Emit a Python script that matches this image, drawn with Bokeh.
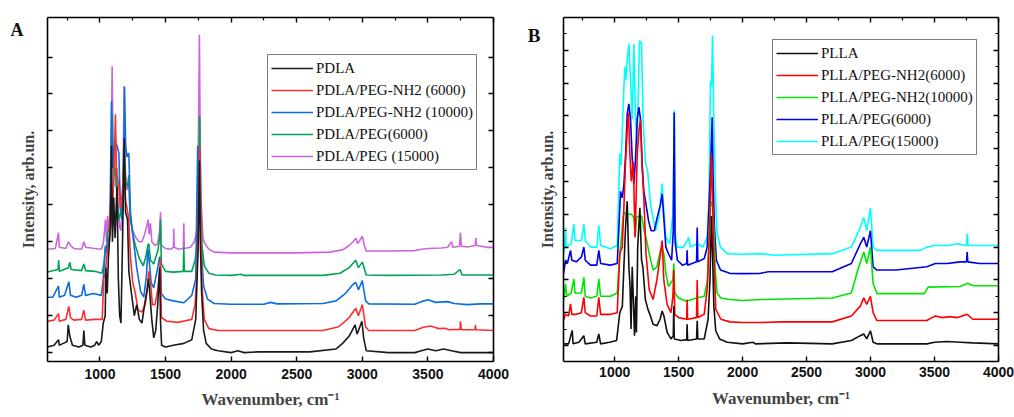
from bokeh.plotting import figure
from bokeh.models import (Range1d, LinearAxis, FixedTicker, Legend, LegendItem, CustomLabelingPolicy,
                          CustomJSTickFormatter)
from bokeh.layouts import row
from bokeh.embed import file_html
from bokeh.resources import INLINE

# ---------------- data (wavenumber, intensity in arbitrary units) ----------------
x_ticks = [1000, 1500, 2000, 2500, 3000, 3500, 4000]
x_minor = [750, 1250, 1750, 2250, 2750, 3250, 3750]

# Panel A
a_labels = ["PDLA", "PDLA/PEG-NH2 (6000)", "PDLA/PEG-NH2 (10000)", "PDLA/PEG(6000)", "PDLA/PEG (15000)"]
a_colors = ["#1a1a1a", "#ff2e2e", "#0a6ee0", "#00a551", "#cc66dd"]

a_pdla = [(600, 0.15), (650, 0.2), (684, 0.35), (690, 0.2), (720, 0.25), (750, 0.3), (758, 0.75), (770, 0.45),
          (790, 0.2), (840, 0.15), (870, 0.2), (877, 0.6), (885, 0.2), (930, 0.15), (960, 0.2), (975, 0.3),
          (990, 0.2), (1010, 0.3), (1025, 0.8), (1040, 1.0), (1045, 2.3), (1055, 1.6), (1065, 2.6), (1080, 3.4),
          (1088, 5.6), (1095, 3.0), (1105, 4.2), (1115, 3.1), (1130, 4.5), (1140, 2.0), (1150, 1.0), (1160, 0.8),
          (1172, 3.0), (1185, 5.8), (1195, 3.8), (1210, 3.6), (1220, 2.2), (1240, 1.6), (1262, 1.0), (1280, 1.3),
          (1300, 0.9), (1320, 0.8), (1340, 1.3), (1355, 1.6), (1370, 2.0), (1380, 1.6), (1395, 0.9), (1410, 0.4),
          (1425, 0.6), (1440, 1.3), (1455, 2.3), (1462, 0.8), (1470, 0.2), (1500, 0.15), (1560, 0.2), (1640, 0.25),
          (1700, 0.35), (1730, 0.9), (1748, 2.8), (1758, 5.2), (1765, 3.0), (1775, 1.6), (1790, 0.6), (1810, 0.25),
          (1850, 0.1), (1900, 0.05), (2000, 0.0), (2050, 0.05), (2100, 0.0), (2200, 0.02), (2600, 0.02), (2800, 0.1),
          (2850, 0.25), (2900, 0.45), (2945, 0.75), (2960, 0.5), (2997, 0.85), (3010, 0.4), (3030, 0.05), (3200, 0.0),
          (3400, 0.0), (3450, 0.05), (3500, 0.1), (3560, 0.05), (3620, 0.1), (3680, 0.05), (3750, 0.0), (4000, 0.0)]

a_nh2_6000 = [(600, 0.85), (650, 0.88), (684, 1.05), (690, 0.85), (740, 0.9), (762, 1.25), (775, 0.95), (800, 0.88),
              (860, 0.9), (877, 1.15), (890, 0.88), (960, 0.9), (1017, 0.9), (1029, 2.0), (1042, 2.2), (1055, 2.7),
              (1070, 3.0), (1085, 4.5), (1095, 3.8), (1108, 5.0), (1118, 6.45), (1125, 5.0), (1131, 4.8), (1144, 4.5),
              (1156, 3.9), (1170, 4.3), (1182, 5.1), (1195, 4.1), (1207, 3.9), (1220, 3.6), (1232, 2.6), (1250, 1.9),
              (1270, 1.6), (1290, 1.15), (1320, 1.1), (1345, 1.3), (1360, 1.7), (1372, 2.2), (1385, 1.9), (1400, 1.3),
              (1420, 1.3), (1440, 1.7), (1455, 2.2), (1461, 2.55), (1468, 0.95), (1510, 0.85), (1600, 0.82),
              (1700, 0.9), (1725, 1.3), (1740, 2.2), (1752, 4.0), (1760, 5.6), (1768, 3.6), (1778, 1.8), (1795, 0.9),
              (1830, 0.65), (1900, 0.6), (2700, 0.6), (2820, 0.7), (2900, 0.95), (2950, 1.2), (2970, 1.0), (3000, 1.3),
              (3025, 0.7), (3050, 0.6), (3400, 0.6), (3460, 0.68), (3520, 0.72), (3580, 0.65), (3630, 0.66),
              (3660, 0.62), (3745, 0.63), (3748, 0.85), (3755, 0.62), (3860, 0.62), (3862, 0.75), (3866, 0.62),
              (4000, 0.6)]

a_nh2_10000 = [(600, 1.5), (640, 1.5), (684, 1.8), (690, 1.5), (730, 1.55), (763, 1.92), (775, 1.55), (820, 1.5),
               (860, 1.55), (877, 1.85), (890, 1.55), (950, 1.6), (1010, 1.55), (1025, 2.0), (1042, 2.85), (1050, 2.7),
               (1060, 3.0), (1075, 3.2), (1088, 6.8), (1095, 5.0), (1105, 5.5), (1118, 5.7), (1130, 5.6), (1144, 5.4),
               (1156, 3.9), (1170, 3.6), (1180, 4.5), (1187, 7.2), (1196, 5.6), (1206, 5.3), (1220, 5.4), (1232, 3.8),
               (1250, 3.2), (1280, 2.3), (1310, 1.65), (1334, 1.5), (1355, 2.1), (1365, 2.8), (1375, 2.5), (1390, 1.9),
               (1410, 1.75), (1440, 2.3), (1455, 2.6), (1461, 2.5), (1468, 1.6), (1500, 1.45), (1560, 1.4),
               (1640, 1.35), (1700, 1.55), (1730, 2.0), (1745, 5.6), (1755, 5.2), (1765, 4.2), (1772, 2.8),
               (1790, 1.8), (1820, 1.45), (1870, 1.33), (2000, 1.31), (2250, 1.31), (2300, 1.36), (2350, 1.32),
               (2700, 1.33), (2800, 1.4), (2870, 1.6), (2930, 1.85), (2950, 1.9), (2970, 1.7), (3000, 1.95),
               (3025, 1.4), (3050, 1.32), (3400, 1.31), (3450, 1.38), (3500, 1.43), (3560, 1.36), (3650, 1.38),
               (3700, 1.33), (3800, 1.3), (3900, 1.32), (4000, 1.32)]

a_peg_6000 = [(600, 2.18), (680, 2.25), (685, 2.5), (690, 2.2), (760, 2.3), (770, 2.45), (780, 2.25), (860, 2.22),
              (877, 2.4), (890, 2.22), (960, 2.2), (1015, 2.15), (1030, 2.4), (1042, 2.9), (1050, 2.7), (1058, 3.2),
              (1075, 3.5), (1085, 4.2), (1093, 6.45), (1100, 5.3), (1110, 4.8), (1120, 5.0), (1131, 4.1), (1145, 3.6),
              (1160, 3.8), (1172, 4.3), (1182, 5.6), (1195, 4.6), (1210, 4.5), (1220, 4.8), (1230, 3.7), (1250, 3.2),
              (1270, 2.9), (1300, 2.55), (1330, 2.35), (1350, 2.6), (1365, 2.9), (1372, 2.95), (1385, 2.5),
              (1410, 2.4), (1440, 2.75), (1455, 3.1), (1461, 3.6), (1468, 2.4), (1500, 2.2), (1560, 2.18),
              (1635, 2.2), (1639, 2.85), (1643, 2.2), (1700, 2.2), (1725, 2.5), (1740, 2.9), (1752, 4.5), (1760, 6.4),
              (1768, 4.0), (1778, 2.9), (1795, 2.35), (1830, 2.15), (1880, 2.1), (2000, 2.09), (2080, 2.12),
              (2090, 2.09), (2700, 2.09), (2830, 2.15), (2900, 2.3), (2950, 2.5), (2970, 2.3), (3000, 2.45),
              (3030, 2.1), (3200, 2.09), (3600, 2.1), (3700, 2.12), (3745, 2.25), (3760, 2.1), (4000, 2.1)]

a_peg_15000 = [(600, 2.8), (660, 2.82), (684, 3.25), (690, 2.85), (740, 2.82), (760, 3.0), (775, 2.9), (800, 2.82),
               (860, 2.8), (877, 3.0), (890, 2.85), (960, 2.82), (1010, 2.8), (1025, 2.95), (1035, 3.3), (1042, 3.6),
               (1050, 3.0), (1058, 3.7), (1070, 3.3), (1080, 4.0), (1093, 7.75), (1100, 5.2), (1108, 5.6),
               (1118, 4.5), (1128, 5.0), (1140, 3.9), (1150, 3.4), (1160, 3.3), (1175, 4.4), (1184, 7.2), (1192, 5.0),
               (1205, 4.4), (1220, 4.6), (1230, 3.6), (1250, 3.3), (1275, 3.1), (1300, 3.0), (1320, 3.0), (1340, 3.2),
               (1355, 3.4), (1367, 3.6), (1375, 3.2), (1385, 3.5), (1395, 3.0), (1420, 2.9), (1440, 2.95),
               (1455, 3.3), (1462, 3.8), (1468, 2.9), (1500, 2.82), (1540, 2.8), (1560, 2.85), (1563, 3.35),
               (1566, 2.85), (1600, 2.8), (1635, 2.82), (1639, 3.5), (1643, 2.82), (1690, 2.85), (1720, 3.0),
               (1738, 3.3), (1748, 5.0), (1758, 8.6), (1765, 5.5), (1772, 4.0), (1785, 3.1), (1800, 2.95),
               (1830, 2.8), (1870, 2.72), (2000, 2.7), (2500, 2.7), (2750, 2.72), (2850, 2.78), (2900, 2.9),
               (2930, 3.0), (2950, 3.1), (2965, 2.95), (3000, 3.15), (3015, 2.9), (3030, 2.75), (3200, 2.75),
               (3400, 2.76), (3450, 2.8), (3500, 2.82), (3600, 2.83), (3650, 2.85), (3680, 3.0), (3690, 2.85),
               (3740, 2.88), (3748, 3.25), (3755, 2.88), (3800, 2.86), (3860, 2.9), (3865, 3.1), (3870, 2.9),
               (3950, 2.85), (4000, 2.85)]

# Panel B
b_labels = ["PLLA", "PLLA/PEG-NH2(6000)", "PLLA/PEG-NH2(10000)", "PLLA/PEG(6000)", "PLLA/PEG(15000)"]
b_colors = ["#111111", "#ff0000", "#00e600", "#0000e6", "#00ffff"]

b_plla = [(600, 0.05), (640, 0.05), (668, 0.46), (675, 0.05), (720, 0.1), (759, 0.3), (770, 0.05), (860, 0.1),
          (876, 0.35), (890, 0.05), (960, 0.1), (1015, 0.15), (1040, 1.0), (1060, 1.2), (1072, 2.4), (1085, 3.6),
          (1098, 4.4), (1111, 2.4), (1120, 1.8), (1128, 0.5), (1137, 2.4), (1145, 1.5), (1155, 0.3), (1165, 1.5),
          (1170, 0.4), (1180, 3.0), (1197, 4.2), (1210, 2.6), (1220, 2.4), (1240, 1.4), (1260, 1.1), (1280, 0.9),
          (1300, 0.65), (1330, 0.6), (1355, 0.8), (1371, 1.05), (1385, 0.9), (1410, 0.4), (1440, 0.2), (1458, 0.3),
          (1462, 1.2), (1466, 0.2), (1520, 0.15), (1563, 0.18), (1566, 0.65), (1570, 0.15), (1640, 0.2),
          (1645, 0.75), (1650, 0.2), (1700, 0.2), (1730, 0.8), (1745, 2.0), (1756, 3.95), (1765, 2.8), (1775, 1.2),
          (1790, 0.45), (1820, 0.2), (1880, 0.1), (2000, 0.05), (2080, 0.1), (2100, 0.05), (2350, 0.08),
          (2700, 0.05), (2850, 0.15), (2920, 0.3), (2947, 0.35), (2970, 0.2), (2999, 0.45), (3020, 0.1),
          (3050, 0.05), (3440, 0.05), (3500, 0.1), (3600, 0.12), (3700, 0.1), (3800, 0.08), (4000, 0.05)]

b_nh2_6000 = [(600, 0.76), (616, 0.95), (640, 0.9), (655, 1.27), (665, 0.95), (700, 0.95), (740, 1.0), (759, 1.47),
              (770, 1.0), (811, 0.9), (860, 0.9), (876, 1.47), (890, 0.95), (967, 0.95), (1020, 1.0), (1040, 2.8),
              (1059, 3.0), (1072, 4.2), (1085, 5.6), (1098, 6.6), (1108, 7.1), (1118, 5.9), (1130, 5.0), (1145, 5.6),
              (1160, 3.3), (1176, 5.8), (1189, 6.5), (1202, 6.9), (1215, 5.4), (1228, 4.5), (1245, 2.8), (1270, 1.7),
              (1300, 1.4), (1330, 2.0), (1358, 2.8), (1371, 3.2), (1384, 2.0), (1410, 1.25), (1440, 1.0),
              (1455, 1.5), (1462, 2.3), (1470, 0.95), (1500, 0.85), (1563, 0.8), (1566, 1.4), (1570, 0.8),
              (1640, 0.85), (1645, 2.0), (1650, 0.85), (1700, 0.95), (1725, 1.8), (1745, 4.0), (1755, 5.85),
              (1765, 4.5), (1775, 2.8), (1790, 1.1), (1830, 0.8), (1900, 0.72), (2000, 0.7), (2140, 0.7),
              (2300, 0.72), (2700, 0.72), (2850, 0.9), (2920, 1.2), (2947, 1.45), (2970, 1.25), (2999, 1.5),
              (3020, 1.0), (3050, 0.76), (3440, 0.76), (3480, 0.85), (3507, 0.9), (3560, 0.85), (3620, 0.88),
              (3680, 0.85), (3755, 0.95), (3800, 0.8), (4000, 0.8)]

b_nh2_10000 = [(600, 1.37), (616, 1.88), (625, 1.5), (660, 1.6), (681, 2.03), (690, 1.6), (740, 1.6), (759, 2.08),
               (770, 1.5), (811, 1.45), (860, 1.5), (876, 2.03), (890, 1.5), (967, 1.5), (1020, 1.6), (1040, 2.8),
               (1055, 3.4), (1065, 3.9), (1075, 4.05), (1100, 4.0), (1130, 4.0), (1150, 3.9), (1160, 3.3),
               (1170, 3.9), (1190, 3.95), (1210, 3.95), (1230, 3.5), (1250, 3.2), (1270, 2.8), (1300, 2.3),
               (1330, 2.4), (1358, 2.9), (1371, 3.0), (1384, 2.8), (1400, 2.2), (1420, 1.8), (1455, 2.0),
               (1462, 2.5), (1470, 1.6), (1500, 1.45), (1560, 1.35), (1640, 1.45), (1700, 1.5), (1725, 2.0),
               (1745, 4.2), (1762, 4.4), (1775, 3.6), (1788, 2.2), (1800, 1.6), (1830, 1.45), (1900, 1.4),
               (2000, 1.37), (2140, 1.4), (2700, 1.45), (2850, 1.6), (2900, 2.3), (2947, 2.85), (2970, 2.5),
               (2999, 3.0), (3020, 1.9), (3050, 1.58), (3420, 1.58), (3450, 1.78), (3700, 1.8), (3760, 1.9),
               (3800, 1.82), (4000, 1.82)]

b_peg_6000 = [(600, 2.19), (616, 2.6), (630, 2.5), (655, 2.9), (665, 2.6), (700, 2.55), (740, 2.7), (759, 3.0),
              (770, 2.6), (811, 2.45), (860, 2.45), (876, 2.9), (890, 2.5), (967, 2.45), (1020, 2.5), (1033, 3.6),
              (1046, 4.7), (1059, 4.5), (1072, 4.9), (1085, 5.8), (1098, 7.06), (1111, 7.37), (1124, 6.9),
              (1137, 5.7), (1150, 4.9), (1163, 5.7), (1176, 6.9), (1189, 7.27), (1202, 6.9), (1215, 5.5),
              (1228, 4.7), (1245, 4.3), (1265, 3.8), (1285, 3.5), (1310, 3.5), (1332, 3.9), (1358, 4.3),
              (1371, 4.62), (1384, 3.9), (1400, 3.0), (1420, 2.8), (1445, 2.6), (1458, 3.5), (1465, 7.1),
              (1472, 3.2), (1490, 2.6), (1530, 2.45), (1563, 2.5), (1566, 2.9), (1570, 2.45), (1640, 2.55),
              (1645, 3.6), (1650, 2.55), (1700, 2.65), (1723, 3.0), (1740, 4.5), (1750, 5.5), (1762, 6.96),
              (1770, 5.0), (1780, 3.6), (1795, 2.6), (1827, 2.3), (1900, 2.2), (2000, 2.19), (2140, 2.2),
              (2200, 2.25), (2700, 2.25), (2850, 2.5), (2920, 3.1), (2947, 3.3), (2970, 3.0), (2999, 3.5),
              (3020, 2.4), (3050, 2.3), (3200, 2.3), (3440, 2.4), (3507, 2.5), (3600, 2.5), (3700, 2.55),
              (3750, 2.55), (3755, 2.85), (3760, 2.55), (3850, 2.5), (4000, 2.5)]

b_peg_15000 = [(600, 2.8), (610, 3.0), (616, 3.6), (622, 3.0), (660, 3.1), (681, 3.7), (690, 3.2), (740, 3.2),
               (759, 3.7), (770, 3.2), (811, 3.0), (860, 3.0), (876, 3.66), (890, 3.05), (967, 2.95), (1020, 3.05),
               (1040, 5.84), (1050, 5.5), (1066, 7.27), (1079, 8.5), (1088, 8.1), (1098, 8.7), (1111, 9.2),
               (1124, 8.1), (1137, 6.9), (1150, 9.2), (1163, 6.9), (1176, 6.1), (1194, 9.3), (1210, 9.2),
               (1222, 6.9), (1240, 5.6), (1258, 5.3), (1280, 4.3), (1300, 3.9), (1320, 3.5), (1345, 3.9),
               (1358, 4.4), (1371, 4.93), (1384, 4.1), (1400, 3.3), (1430, 3.1), (1455, 4.0), (1467, 7.17),
               (1473, 3.4), (1490, 3.0), (1540, 3.0), (1579, 3.3), (1590, 3.0), (1645, 3.1), (1690, 3.0),
               (1723, 3.3), (1736, 4.3), (1749, 8.08), (1757, 7.9), (1765, 9.45), (1775, 6.9), (1788, 4.6),
               (1801, 3.4), (1827, 3.0), (1880, 2.8), (2000, 2.78), (2140, 2.8), (2250, 2.75), (2700, 2.8),
               (2850, 3.0), (2920, 3.6), (2947, 3.9), (2970, 3.5), (2999, 4.2), (3020, 3.0), (3050, 2.9),
               (3390, 2.9), (3440, 3.0), (3500, 3.05), (3600, 3.05), (3680, 3.1), (3750, 3.05), (3755, 3.4),
               (3760, 3.05), (3850, 3.05), (4000, 3.05)]

a_series = [a_pdla, a_nh2_6000, a_nh2_10000, a_peg_6000, a_peg_15000]
b_series = [b_plla, b_nh2_6000, b_nh2_10000, b_peg_6000, b_peg_15000]

a_yticks = [0, 1, 2, 3, 4, 5, 6, 7, 8]
b_yticks = [0, 1, 2, 3, 4, 5, 6, 7, 8, 9]
b_yminor = [0.5, 1.5, 2.5, 3.5, 4.5, 5.5, 6.5, 7.5, 8.5, 9.5]

SERIF = "Liberation Serif"
SANS = "Liberation Sans"

HIDE_ALL = "for (const i of indices) { indices.unset(i) }\nreturn indices"


def style_axis(ax, show_labels=False):
    ax.axis_line_color = "black"
    ax.axis_line_width = 1.6
    ax.major_tick_line_color = "black"
    ax.major_tick_line_width = 1.4
    ax.minor_tick_line_color = "black"
    ax.minor_tick_line_width = 1.2
    ax.major_tick_in = 5
    ax.major_tick_out = 0
    ax.minor_tick_in = 3
    ax.minor_tick_out = 0
    if not show_labels:
        ax.major_label_policy = CustomLabelingPolicy(code=HIDE_ALL)
        ax.major_label_text_font_size = "1px"
        ax.major_label_standoff = 0


def make_panel(width, height, borders, yr, yticks, yminor_left, yminor_right, series, labels, colors,
               legend_loc, letter, letter_y, letter_size, letter_standoff, lbl_standoff, title_standoff,
               ylab_standoff):
    bl, br, bt, bb = borders
    p = figure(width=width, height=height, output_backend="svg", toolbar_location=None,
               x_range=Range1d(600, 4000), y_range=Range1d(*yr),
               min_border_left=bl, min_border_right=br, min_border_top=bt, min_border_bottom=bb,
               background_fill_color="white", border_fill_color="white", outline_line_color=None)
    p.xgrid.visible = False
    p.ygrid.visible = False

    xa = p.xaxis[0]
    xa.ticker = FixedTicker(ticks=x_ticks, minor_ticks=[])
    style_axis(xa, show_labels=True)
    xa.major_label_text_font = SANS
    xa.major_label_text_font_style = "bold"
    xa.major_label_text_font_size = "14px"
    xa.major_label_text_color = "#111111"
    xa.major_label_text_line_height = 1.0
    xa.major_label_standoff = lbl_standoff
    xa.axis_label = "Wavenumber, cm\u207b\u00b9"
    xa.axis_label_text_font = SERIF
    xa.axis_label_text_font_style = "bold"
    xa.axis_label_text_font_size = "17px"
    xa.axis_label_text_line_height = 1.0
    xa.axis_label_standoff = title_standoff

    ya = p.yaxis[0]
    ya.ticker = FixedTicker(ticks=yticks, minor_ticks=yminor_left)
    style_axis(ya)
    ya.axis_label = "Intensity, arb.un."
    ya.axis_label_text_font = SERIF
    ya.axis_label_text_font_style = "bold"
    ya.axis_label_text_font_size = "16px"
    ya.axis_label_standoff = ylab_standoff

    # panel letter, drawn as the single tick label of an outer, line-less axis
    la = LinearAxis(ticker=FixedTicker(ticks=[letter_y], minor_ticks=[]),
                    formatter=CustomJSTickFormatter(args=dict(t=letter), code="return t"))
    la.axis_line_color = None
    la.major_tick_line_color = None
    la.minor_tick_line_color = None
    la.major_tick_in = 0
    la.major_tick_out = 0
    la.major_label_text_font = SERIF
    la.major_label_text_font_style = "bold"
    la.major_label_text_font_size = letter_size
    la.major_label_text_color = "#111111"
    la.major_label_standoff = letter_standoff
    p.add_layout(la, "left")

    top = LinearAxis(ticker=FixedTicker(ticks=x_ticks, minor_ticks=x_minor))
    style_axis(top)
    p.add_layout(top, "above")
    right = LinearAxis(ticker=FixedTicker(ticks=yticks, minor_ticks=yminor_right))
    style_axis(right)
    p.add_layout(right, "right")

    renderers = [None] * len(series)
    for i in reversed(range(len(series))):
        xs = [pt[0] for pt in series[i]]
        ys = [pt[1] for pt in series[i]]
        renderers[i] = p.line(xs, ys, line_color=colors[i], line_width=1.6)

    items = [LegendItem(label=labels[i], renderers=[renderers[i]]) for i in range(len(series))]
    leg = Legend(items=items, location=legend_loc)
    leg.border_line_color = "black"
    leg.border_line_width = 1.5
    leg.background_fill_color = "white"
    leg.background_fill_alpha = 1.0
    leg.label_text_font = SERIF
    leg.label_text_font_size = "15px"
    leg.label_text_color = "#111111"
    leg.glyph_width = 42
    leg.glyph_height = 20
    leg.label_height = 20
    leg.label_standoff = 3
    leg.spacing = 2
    leg.padding = 3
    leg.margin = 0
    p.add_layout(leg)
    return p


pA = make_panel(513, 417, (47, 20, 15, 54), (-0.24, 9.07), a_yticks, [], [], a_series, a_labels, a_colors,
                (220, 191), "A", 8.72, "18px", -7, 7, 8, 7)
pB = make_panel(501, 417, (50, 16, 17, 56), (-0.488, 10.0), b_yticks, b_yminor, b_yminor, b_series, b_labels,
                b_colors, (209, 206), "B", 9.45, "19px", -5, 5, 9, 4)

layout = row(pA, pB)
open("out.html", "w").write(file_html(layout, INLINE))
